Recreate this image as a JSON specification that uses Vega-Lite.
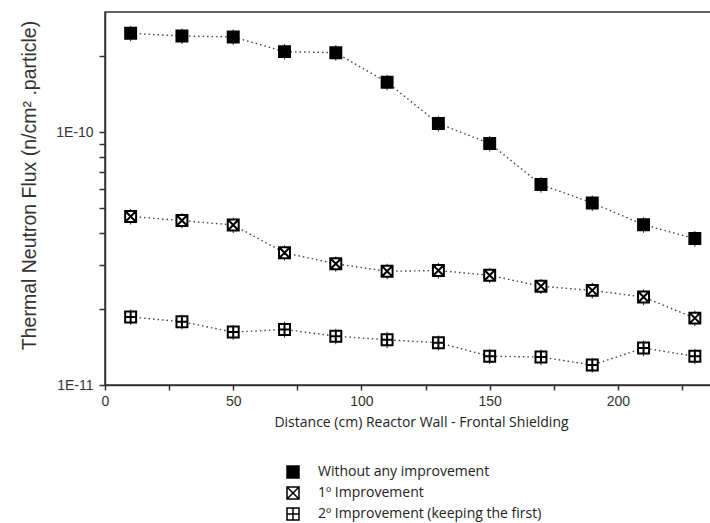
{
  "$schema": "https://vega.github.io/schema/vega-lite/v6.json",
  "width": 606,
  "height": 373,
  "padding": {"left": 18, "top": 12, "right": 0, "bottom": 0},
  "background": "white",
  "config": {
    "view": {"stroke": "#333", "strokeWidth": 1.5},
    "font": "Liberation Sans",
    "axis": {
      "grid": false,
      "domain": true,
      "domainColor": "#333",
      "domainWidth": 1.5,
      "ticks": true,
      "tickColor": "#333",
      "tickWidth": 1.5,
      "labelColor": "#333",
      "labelFont": "Liberation Sans",
      "labelFontSize": 14,
      "labelOverlap": false,
      "labelFlush": false,
      "titleColor": "#333",
      "titleFontWeight": "normal"
    }
  },
  "data": {
    "values": [
      {"d": 10, "flux": 2.47e-10, "lo": 2.297e-10, "hi": 2.643e-10, "series": "Without any improvement"},
      {"d": 30, "flux": 2.41e-10, "lo": 2.241e-10, "hi": 2.579e-10, "series": "Without any improvement"},
      {"d": 50, "flux": 2.39e-10, "lo": 2.223e-10, "hi": 2.557e-10, "series": "Without any improvement"},
      {"d": 70, "flux": 2.09e-10, "lo": 1.944e-10, "hi": 2.236e-10, "series": "Without any improvement"},
      {"d": 90, "flux": 2.07e-10, "lo": 1.925e-10, "hi": 2.215e-10, "series": "Without any improvement"},
      {"d": 110, "flux": 1.58e-10, "lo": 1.469e-10, "hi": 1.691e-10, "series": "Without any improvement"},
      {"d": 130, "flux": 1.085e-10, "lo": 1.009e-10, "hi": 1.161e-10, "series": "Without any improvement"},
      {"d": 150, "flux": 9.05e-11, "lo": 8.42e-11, "hi": 9.68e-11, "series": "Without any improvement"},
      {"d": 170, "flux": 6.22e-11, "lo": 5.78e-11, "hi": 6.66e-11, "series": "Without any improvement"},
      {"d": 190, "flux": 5.26e-11, "lo": 4.89e-11, "hi": 5.63e-11, "series": "Without any improvement"},
      {"d": 210, "flux": 4.31e-11, "lo": 4.01e-11, "hi": 4.61e-11, "series": "Without any improvement"},
      {"d": 230, "flux": 3.80e-11, "lo": 3.53e-11, "hi": 4.07e-11, "series": "Without any improvement"},
      {"d": 10, "flux": 4.65e-11, "lo": 4.32e-11, "hi": 4.98e-11, "series": "1º Improvement"},
      {"d": 30, "flux": 4.48e-11, "lo": 4.17e-11, "hi": 4.79e-11, "series": "1º Improvement"},
      {"d": 50, "flux": 4.30e-11, "lo": 4.00e-11, "hi": 4.60e-11, "series": "1º Improvement"},
      {"d": 70, "flux": 3.34e-11, "lo": 3.11e-11, "hi": 3.57e-11, "series": "1º Improvement"},
      {"d": 90, "flux": 3.02e-11, "lo": 2.81e-11, "hi": 3.23e-11, "series": "1º Improvement"},
      {"d": 110, "flux": 2.82e-11, "lo": 2.62e-11, "hi": 3.02e-11, "series": "1º Improvement"},
      {"d": 130, "flux": 2.84e-11, "lo": 2.64e-11, "hi": 3.04e-11, "series": "1º Improvement"},
      {"d": 150, "flux": 2.72e-11, "lo": 2.53e-11, "hi": 2.91e-11, "series": "1º Improvement"},
      {"d": 170, "flux": 2.46e-11, "lo": 2.29e-11, "hi": 2.63e-11, "series": "1º Improvement"},
      {"d": 190, "flux": 2.37e-11, "lo": 2.20e-11, "hi": 2.54e-11, "series": "1º Improvement"},
      {"d": 210, "flux": 2.23e-11, "lo": 2.07e-11, "hi": 2.39e-11, "series": "1º Improvement"},
      {"d": 230, "flux": 1.84e-11, "lo": 1.71e-11, "hi": 1.97e-11, "series": "1º Improvement"},
      {"d": 10, "flux": 1.86e-11, "lo": 1.73e-11, "hi": 1.99e-11, "series": "2º Improvement (keeping the first)"},
      {"d": 30, "flux": 1.78e-11, "lo": 1.66e-11, "hi": 1.90e-11, "series": "2º Improvement (keeping the first)"},
      {"d": 50, "flux": 1.62e-11, "lo": 1.51e-11, "hi": 1.73e-11, "series": "2º Improvement (keeping the first)"},
      {"d": 70, "flux": 1.66e-11, "lo": 1.54e-11, "hi": 1.78e-11, "series": "2º Improvement (keeping the first)"},
      {"d": 90, "flux": 1.56e-11, "lo": 1.45e-11, "hi": 1.67e-11, "series": "2º Improvement (keeping the first)"},
      {"d": 110, "flux": 1.51e-11, "lo": 1.40e-11, "hi": 1.62e-11, "series": "2º Improvement (keeping the first)"},
      {"d": 130, "flux": 1.47e-11, "lo": 1.37e-11, "hi": 1.57e-11, "series": "2º Improvement (keeping the first)"},
      {"d": 150, "flux": 1.30e-11, "lo": 1.21e-11, "hi": 1.39e-11, "series": "2º Improvement (keeping the first)"},
      {"d": 170, "flux": 1.29e-11, "lo": 1.20e-11, "hi": 1.38e-11, "series": "2º Improvement (keeping the first)"},
      {"d": 190, "flux": 1.20e-11, "lo": 1.12e-11, "hi": 1.28e-11, "series": "2º Improvement (keeping the first)"},
      {"d": 210, "flux": 1.40e-11, "lo": 1.30e-11, "hi": 1.50e-11, "series": "2º Improvement (keeping the first)"},
      {"d": 230, "flux": 1.30e-11, "lo": 1.21e-11, "hi": 1.39e-11, "series": "2º Improvement (keeping the first)"}
    ]
  },
  "encoding": {
    "x": {"field": "d", "type": "quantitative", "scale": {"domain": [0, 236.3], "nice": false, "zero": false}, "axis": {
      "values": [0, 25, 50, 75, 100, 125, 150, 175, 200, 225],
      "labelExpr": "datum.value % 50 == 0 ? datum.label : ''",
      "tickSize": 5,
      "labelPadding": 4,
      "title": "Distance (cm) Reactor Wall - Frontal Shielding",
      "titleFont": "Open Sans",
      "titleFontSize": 14,
      "titleColor": "#222",
      "titleX": 316,
      "titleY": 37,
      "titleAlign": "center",
      "titleBaseline": "middle"
    }},
    "y": {"field": "flux", "type": "quantitative", "scale": {"type": "log", "domain": [1e-11, 3e-10], "nice": false}, "axis": {
      "values": [1e-11, 2e-11, 3e-11, 4e-11, 5e-11, 6e-11, 7e-11, 8e-11, 9e-11, 1e-10, 2e-10],
      "labelExpr": "datum.value == 1e-10 ? '1E-10' : (datum.value == 1e-11 ? '1E-11' : '')",
      "ticks": true,
      "domain": true,
      "tickSize": 6,
      "tickColor": "#333",
      "tickWidth": 1.5,
      "labelPadding": 6,
      "title": "Thermal Neutron Flux (n/cm² .particle)",
      "titleFont": "Liberation Sans",
      "titleFontSize": 19.5,
      "titleColor": "#333",
      "titleX": -76,
      "titleY": 173,
      "titleAngle": -90,
      "titleAlign": "center",
      "titleBaseline": "middle"
    }}
  },
  "layer": [
    {
      "mark": {"type": "line", "strokeDash": [1.5, 3], "color": "#444", "strokeWidth": 1.4},
      "encoding": {"detail": {"field": "series", "type": "nominal"}}
    },
    {
      "mark": {"type": "rule", "color": "#222", "strokeWidth": 1},
      "encoding": {
        "y": {"field": "lo", "type": "quantitative"},
        "y2": {"field": "hi"}
      }
    },
    {
      "mark": {"type": "point", "filled": true, "strokeWidth": 2, "opacity": 1, "size": 120},
      "encoding": {
        "shape": {
          "field": "series", "type": "nominal",
          "scale": {
            "domain": ["Without any improvement", "1º Improvement", "2º Improvement (keeping the first)"],
            "range": ["M-1,-1H1V1H-1Z", "M-1,-1H1V1H-1Z M-1,-1L1,1 M1,-1L-1,1", "M-1,-1H1V1H-1Z M0,-1V1 M-1,0H1"]
          },
          "legend": {
            "orient": "none",
            "legendX": 181,
            "legendY": 453,
            "title": null,
            "padding": 0,
            "symbolSize": 144,
            "symbolStrokeWidth": 1.5,
            "symbolOpacity": 1,
            "labelOffset": 18,
            "labelFont": "Open Sans",
            "labelFontSize": 14,
            "labelColor": "#222",
            "labelLimit": 0,
            "rowPadding": 3,
            "encode": {
              "symbols": {
                "enter": {
                  "shape": {"signal": "datum.value === 'Without any improvement' ? 'M-1,-1H1V1H-1Z M-3.5,0h0.2M-3,0h0.2M-2.5,0h0.2M-2,0h0.2M-1.5,0h0.2M1.3,0h0.2M1.8,0h0.2M2.3,0h0.2M2.8,0h0.2M3.3,0h0.2' : (datum.value === '1º Improvement' ? 'M-1,-1H1V1H-1Z M-1,-1L1,1 M1,-1L-1,1 M-3.5,0h0.2M-3,0h0.2M-2.5,0h0.2M-2,0h0.2M-1.5,0h0.2M1.3,0h0.2M1.8,0h0.2M2.3,0h0.2M2.8,0h0.2M3.3,0h0.2' : 'M-1,-1H1V1H-1Z M0,-1V1 M-1,0H1 M-3.5,0h0.2M-3,0h0.2M-2.5,0h0.2M-2,0h0.2M-1.5,0h0.2M1.3,0h0.2M1.8,0h0.2M2.3,0h0.2M2.8,0h0.2M3.3,0h0.2')"}
                },
                "update": {
                  "shape": {"signal": "datum.value === 'Without any improvement' ? 'M-1,-1H1V1H-1Z M-3.5,0h0.2M-3,0h0.2M-2.5,0h0.2M-2,0h0.2M-1.5,0h0.2M1.3,0h0.2M1.8,0h0.2M2.3,0h0.2M2.8,0h0.2M3.3,0h0.2' : (datum.value === '1º Improvement' ? 'M-1,-1H1V1H-1Z M-1,-1L1,1 M1,-1L-1,1 M-3.5,0h0.2M-3,0h0.2M-2.5,0h0.2M-2,0h0.2M-1.5,0h0.2M1.3,0h0.2M1.8,0h0.2M2.3,0h0.2M2.8,0h0.2M3.3,0h0.2' : 'M-1,-1H1V1H-1Z M0,-1V1 M-1,0H1 M-3.5,0h0.2M-3,0h0.2M-2.5,0h0.2M-2,0h0.2M-1.5,0h0.2M1.3,0h0.2M1.8,0h0.2M2.3,0h0.2M2.8,0h0.2M3.3,0h0.2')"}
                }
              }
            }
          }
        },
        "fill": {
          "field": "series", "type": "nominal",
          "scale": {
            "domain": ["Without any improvement", "1º Improvement", "2º Improvement (keeping the first)"],
            "range": ["black", "white", "white"]
          }
        },
        "stroke": {
          "field": "series", "type": "nominal",
          "scale": {
            "domain": ["Without any improvement", "1º Improvement", "2º Improvement (keeping the first)"],
            "range": ["black", "black", "black"]
          }
        }
      }
    }
  ]
}
